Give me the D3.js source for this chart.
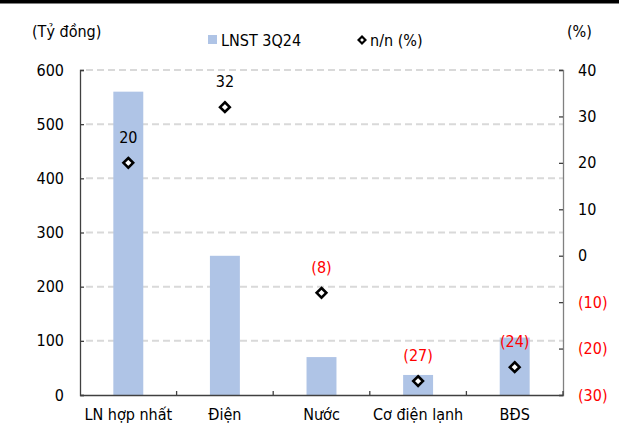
<!DOCTYPE html>
<html>
<head>
<meta charset="utf-8">
<script src="https://cdn.jsdelivr.net/npm/d3@7"></script>
<style>
  html, body { margin: 0; padding: 0; background: #fff; }
  svg text { font-family: "DejaVu Sans Condensed", "DejaVu Sans", sans-serif; font-stretch: condensed; }
</style>
</head>
<body>
<svg id="chart" width="619" height="436"></svg>
<script>
// Segment profit (left axis, billion VND) and YoY change (right axis, %)
const categories = ["LN hợp nhất", "Điện", "Nước", "Cơ điện lạnh", "BĐS"];
const profit3Q24 = [560, 257, 70, 37, 106];
const yoyPct = [20, 32, -8, -27, -24];
const leftTicks = [0, 100, 200, 300, 400, 500, 600];
const rightTicks = [-30, -20, -10, 0, 10, 20, 30, 40];

const svg = d3.select("#chart");
const W = 619, H = 436;
const plot = { left: 80, right: 563, top: 70, bottom: 395 };
const fontSize = 16;
const red = "#ff0000";

const fmtPct = v => v < 0 ? `(${Math.abs(v)})` : `${v}`;

const x = d3.scaleBand().domain(categories).range([plot.left, plot.right]).padding(0);
const yL = d3.scaleLinear().domain([0, 600]).range([plot.bottom, plot.top]);
const yR = d3.scaleLinear().domain([-30, 40]).range([plot.bottom, plot.top]);
const barW = x.bandwidth() * 0.31;

// top rule
svg.append("rect").attr("x", 0).attr("y", 0).attr("width", W).attr("height", 3.5).attr("fill", "#000");

// dashed gridlines from left-axis ticks
svg.append("g").selectAll("line")
  .data(leftTicks.filter(t => t > 0))
  .join("line")
  .attr("x1", plot.left + 6).attr("x2", plot.right)
  .attr("y1", d => yL(d)).attr("y2", d => yL(d))
  .attr("stroke", "#d9d9d9").attr("stroke-width", 2)
  .attr("stroke-dasharray", "7,4");

// bars
svg.append("g").selectAll("rect")
  .data(categories.map((c, i) => ({ c, v: profit3Q24[i] })))
  .join("rect")
  .attr("x", d => x(d.c) + (x.bandwidth() - barW) / 2)
  .attr("width", barW)
  .attr("y", d => yL(d.v))
  .attr("height", d => yL(0) - yL(d.v))
  .attr("fill", "#afc4e6");

// left axis
const gL = svg.append("g").attr("transform", `translate(${plot.left},0)`)
  .call(d3.axisLeft(yL).tickValues(leftTicks).tickSize(-4).tickPadding(16));
gL.select(".domain").attr("stroke", "#404040").attr("stroke-width", 1.3);
gL.selectAll(".tick line").attr("stroke", "#404040").attr("stroke-width", 1.3);
gL.selectAll("text").attr("font-size", fontSize).attr("fill", "#000")
  .attr("font-family", "DejaVu Sans Condensed, DejaVu Sans, sans-serif");

// right axis
const gR = svg.append("g").attr("transform", `translate(${plot.right},0)`)
  .call(d3.axisRight(yR).tickValues(rightTicks).tickSize(-4).tickPadding(15).tickFormat(fmtPct));
gR.select(".domain").attr("stroke", "#808080").attr("stroke-width", 1.3);
gR.selectAll(".tick line").attr("stroke", "#404040").attr("stroke-width", 1.3);
gR.selectAll("text").attr("font-size", fontSize)
  .attr("fill", d => d < 0 ? red : "#000")
  .attr("font-family", "DejaVu Sans Condensed, DejaVu Sans, sans-serif");

// bottom axis with ticks at category boundaries
const gB = svg.append("g").attr("transform", `translate(0,${plot.bottom})`)
  .call(d3.axisBottom(x).tickSize(0).tickPadding(14));
gB.select(".domain").attr("stroke", "#404040").attr("stroke-width", 1.3);
gB.selectAll("text").attr("font-size", fontSize).attr("fill", "#000")
  .attr("font-family", "DejaVu Sans Condensed, DejaVu Sans, sans-serif");
gB.append("g").selectAll("line")
  .data(categories.slice(1).concat(["__end"]))
  .join("line")
  .attr("x1", (d, i) => i < categories.length - 1 ? x(d) : plot.right)
  .attr("x2", (d, i) => i < categories.length - 1 ? x(d) : plot.right)
  .attr("y1", 0).attr("y2", -4)
  .attr("stroke", "#404040").attr("stroke-width", 1.3);

// YoY diamonds
const diamond = d3.symbol().type(d3.symbolDiamond2).size(60);
const pts = categories.map((c, i) => ({ c, v: yoyPct[i] }));
svg.append("g").selectAll("path")
  .data(pts)
  .join("path")
  .attr("d", diamond)
  .attr("transform", d => `translate(${x(d.c) + x.bandwidth() / 2},${yR(d.v)})`)
  .attr("fill", "#fff").attr("stroke", "#000").attr("stroke-width", 2.6);

// YoY value labels
svg.append("g").selectAll("text")
  .data(pts)
  .join("text")
  .attr("x", d => x(d.c) + x.bandwidth() / 2)
  .attr("y", d => yR(d.v) - 20)
  .attr("text-anchor", "middle")
  .attr("font-size", fontSize)
  .attr("fill", d => d.v < 0 ? red : "#000")
  .text(d => fmtPct(d.v));

// axis titles
svg.append("text").attr("x", 32).attr("y", 37).attr("font-size", fontSize).text("(Tỷ đồng)");
svg.append("text").attr("x", 567).attr("y", 37).attr("font-size", fontSize).text("(%)");

// legend
svg.append("rect").attr("x", 208).attr("y", 35).attr("width", 9).attr("height", 9).attr("fill", "#afc4e6");
svg.append("text").attr("x", 221).attr("y", 46).attr("font-size", fontSize).text("LNST 3Q24");
svg.append("path").attr("d", d3.symbol().type(d3.symbolDiamond2).size(30))
  .attr("transform", "translate(362,40)")
  .attr("fill", "#fff").attr("stroke", "#000").attr("stroke-width", 2.2);
svg.append("text").attr("x", 370).attr("y", 46).attr("font-size", fontSize).text("n/n (%)");
</script>
</body>
</html>
